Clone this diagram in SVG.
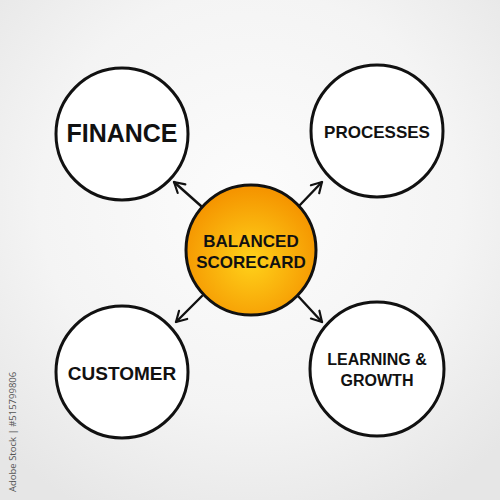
<svg xmlns="http://www.w3.org/2000/svg" width="500" height="500" viewBox="0 0 500 500">
<defs>
<radialGradient id="bg" cx="50%" cy="40%" r="70%">
<stop offset="0" stop-color="#fcfcfc"/>
<stop offset="0.6" stop-color="#f4f4f4"/>
<stop offset="1" stop-color="#e6e6e6"/>
</radialGradient>
<radialGradient id="core" cx="50%" cy="58%" r="55%">
<stop offset="0" stop-color="#ffd21a"/>
<stop offset="1" stop-color="#f59500"/>
</radialGradient>
<marker id="ah" viewBox="0 0 10 10" refX="8.5" refY="5" markerWidth="6" markerHeight="6" orient="auto" markerUnits="strokeWidth">
<path d="M1.5,1 L8.5,5 L1.5,9" fill="none" stroke="#111" stroke-width="1.5" stroke-linecap="round" stroke-linejoin="round"/>
</marker>
<style>
.ring{fill:#fff;stroke:#111;stroke-width:3}
.lbl{font-family:"Liberation Sans",Arial,sans-serif;font-weight:bold;fill:#111;text-anchor:middle}
.con{stroke:#111;stroke-width:2.4;fill:none;marker-end:url(#ah);stroke-linecap:round}
</style>
</defs>
<rect width="500" height="500" fill="url(#bg)"/>
<text x="16" y="492" transform="rotate(-90 16 492)" font-family="'Open Sans','Liberation Sans',sans-serif" font-size="9.5" fill="#555">Adobe Stock | #515799806</text>
<g id="connectors">
<path class="con" d="M201,206 L174,182"/>
<path class="con" d="M299,206 L322,182"/>
<path class="con" d="M202,296 L176,322"/>
<path class="con" d="M298,296 L322,322"/>
</g>
<g id="finance">
<circle class="ring" cx="122" cy="134" r="66"/>
<text class="lbl" x="122" y="142" font-size="25">FINANCE</text>
</g>
<g id="processes">
<circle class="ring" cx="377" cy="131" r="66"/>
<text class="lbl" x="377" y="138" font-size="17">PROCESSES</text>
</g>
<g id="customer">
<circle class="ring" cx="122" cy="372" r="66"/>
<text class="lbl" x="122" y="380" font-size="19">CUSTOMER</text>
</g>
<g id="learning">
<circle class="ring" cx="377" cy="369" r="67"/>
<text class="lbl" x="377" y="365" font-size="16">LEARNING &amp;</text>
<text class="lbl" x="377" y="386" font-size="16">GROWTH</text>
</g>
<g id="scorecard">
<circle cx="251" cy="250" r="65" fill="url(#core)" stroke="#111" stroke-width="3"/>
<text class="lbl" x="251" y="247" font-size="17">BALANCED</text>
<text class="lbl" x="251" y="268" font-size="17">SCORECARD</text>
</g>
</svg>
